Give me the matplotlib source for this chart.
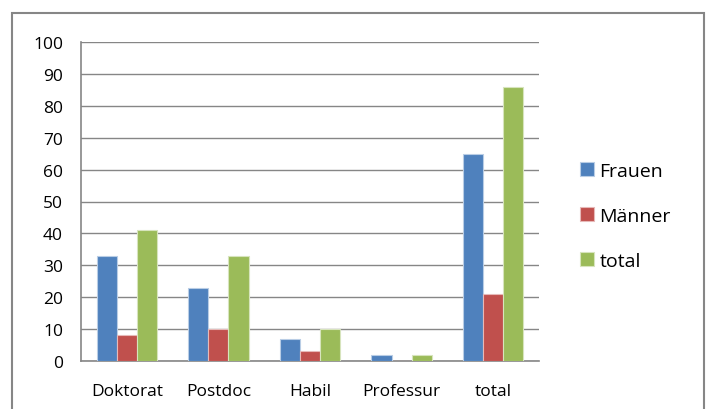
import matplotlib.pyplot as plt
import numpy as np
from matplotlib.patches import Rectangle

# data
categories = ["Doktorat", "Postdoc", "Habil", "Professur", "total"]
frauen = [33, 23, 7, 2, 65]
maenner = [8, 10, 3, 0, 21]
total = [41, 33, 10, 2, 86]
series_names = ["Frauen", "Männer", "total"]
colors = ["#4F81BD", "#C0504D", "#9BBB59"]
edges = ["#B9CDE5", "#E6B9B8", "#D7E4BD"]

plt.rcParams["font.family"] = ["Open Sans", "DejaVu Sans"]

fig = plt.figure(figsize=(7.1, 4.1), dpi=100)
ax = fig.add_axes([81 / 710, 1 - 362 / 410, 458 / 710, 319 / 410])

# outer chart frame
fig.patches.append(Rectangle((12 / 710, -0.05), 692 / 710, 1.05 - 14 / 410,
                             transform=fig.transFigure, fill=False,
                             edgecolor="#868686", linewidth=1.5))

x = np.arange(len(categories))
w = 0.22
for i, vals in enumerate([frauen, maenner, total]):
    ax.bar(x + (i - 1) * w, vals, w, color=colors[i], edgecolor=edges[i],
           linewidth=0.8, label=series_names[i], zorder=3)

ax.set_xlim(-0.5, len(categories) - 0.5)
ax.set_ylim(0, 100)
ax.set_yticks(np.arange(0, 101, 10))
ax.set_xticks(x)
ax.set_xticklabels(categories)
ax.tick_params(axis="both", length=0, labelsize=12.5, colors="black")
ax.tick_params(axis="y", pad=13)
ax.tick_params(axis="x", pad=16)
ax.grid(axis="y", color="#868686", linewidth=1, zorder=0)
for s in ["top", "right"]:
    ax.spines[s].set_visible(False)
for s in ["left", "bottom"]:
    ax.spines[s].set_color("#868686")
    ax.spines[s].set_linewidth(1.2)

leg = ax.legend(loc="center left", bbox_to_anchor=(1.072, 0.455), frameon=False,
                fontsize=14, handlelength=0.72, handleheight=0.72,
                handletextpad=0.3, labelspacing=1.4, borderaxespad=0)

fig.savefig("out.png", dpi=100)
